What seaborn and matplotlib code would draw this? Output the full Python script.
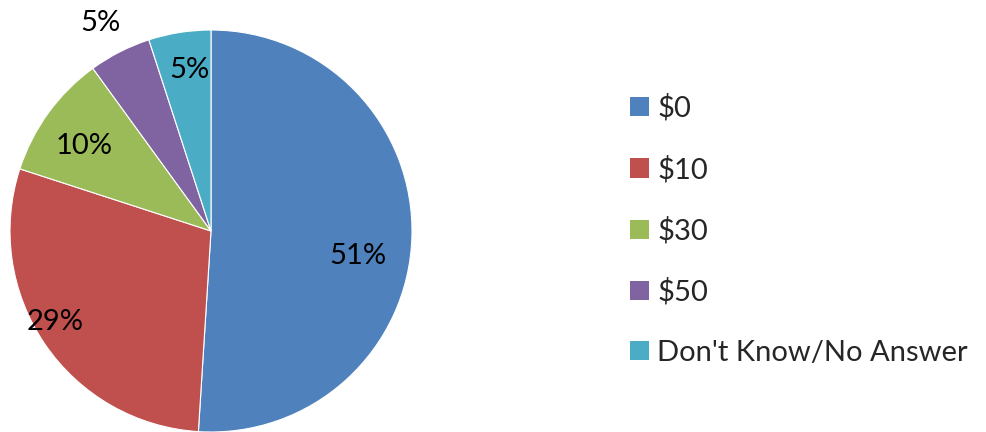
import matplotlib
matplotlib.use("Agg")
import numpy as np
import matplotlib.pyplot as plt
import seaborn as sns

# Data
categories = ["$0", "$10", "$30", "$50", "Don't Know/No Answer"]
shares = [51, 29, 10, 5, 5]
colors = ["#4F81BD", "#C0504D", "#9BBB59", "#8064A2", "#4BACC6"]
# label placement: fraction of radius and angular nudge (deg)
label_radius = [0.74, 0.90, 0.76, 1.17, 0.81]
label_nudge = [-8, -4, 2, 1, -1.5]

sns.set_theme(style="white")
plt.rcParams["font.family"] = ["Lato", "DejaVu Sans"]

fig = plt.figure(figsize=(9.87, 4.32), dpi=100)
ax = fig.add_axes([10 / 987, 0.0, 402 / 987, 402 / 432])

wedges, _ = ax.pie(
    shares,
    colors=colors,
    startangle=90,
    counterclock=False,
    radius=1.0,
    wedgeprops=dict(edgecolor="white", linewidth=0.8),
)
ax.set_aspect("equal")
ax.set_xlim(-1, 1)
ax.set_ylim(-1, 1)

for w, val, r, dn in zip(wedges, shares, label_radius, label_nudge):
    mid = np.deg2rad((w.theta1 + w.theta2) / 2 + dn)
    ax.text(r * np.cos(mid), r * np.sin(mid), f"{val}%",
            ha="center", va="center", fontsize=21, color="black")

fig.legend(
    wedges, categories,
    loc="center left",
    bbox_to_anchor=(630 / 987, 1 - 230 / 432),
    frameon=False,
    fontsize=21,
    handlelength=0.65,
    handleheight=0.65,
    handletextpad=0.28,
    labelspacing=1.16,
    borderpad=0,
    borderaxespad=0,
)
for h in fig.legends[0].legend_handles:
    h.set_edgecolor("none")

fig.savefig("out.png", dpi=100)
